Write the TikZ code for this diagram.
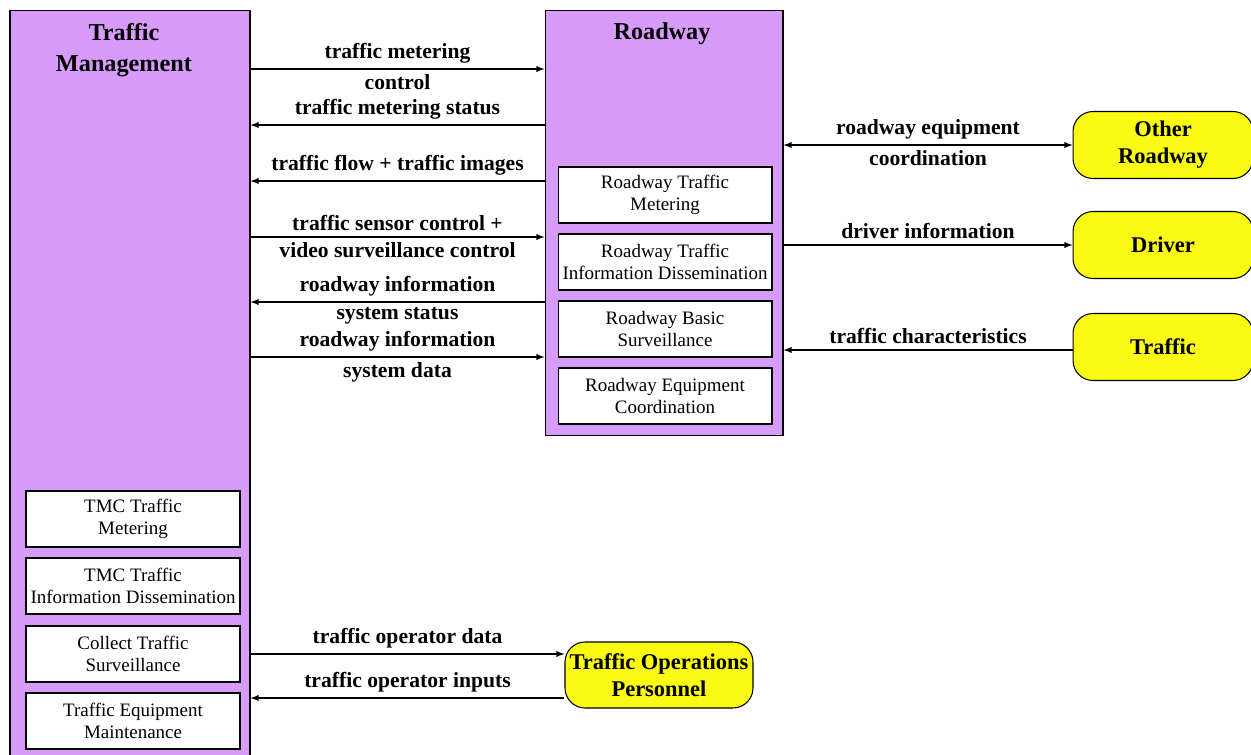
\documentclass[tikz,border=0pt]{standalone}
\usepackage{fontspec}
\setmainfont{Liberation Serif}
\usetikzlibrary{arrows,positioning}

\definecolor{tmpurple}{RGB}{215,155,250}
\definecolor{termyellow}{RGB}{250,250,20}

\begin{document}
\begin{tikzpicture}
[x=0.02cm,y=-0.02cm,>=latex,line width=0.6pt,
  subsys/.style={draw,fill=tmpurple,minimum width=4.8cm,inner sep=0pt},
  pspec/.style={draw,fill=white,minimum width=4.28cm,minimum height=1.12cm,align=center,
    inner sep=0pt,font=\fontsize{10.8}{12.8}\selectfont},
  term/.style={draw,fill=termyellow,rounded corners=0.4cm,minimum width=3.6cm,minimum height=1.34cm,
    align=center,inner sep=0pt,font=\fontsize{12.8}{15.5}\selectfont\bfseries},
  title/.style={align=center,font=\fontsize{13.8}{17.5}\selectfont\bfseries},
  flow/.style={font=\fontsize{12.3}{14}\selectfont\bfseries,inner sep=1pt}]

  \useasboundingbox (0,0) rectangle (1251,754);

  % subsystems
  \node[subsys,minimum height=15.2cm] (tm) at (130,390) {};
  \node[subsys,minimum width=4.76cm,minimum height=8.52cm] (road) at (664,223) {};
  \node[title] (tmtitle) at (124,50) {Traffic\\Management};
  \node[title] (roadtitle) at (662,34) {Roadway};

  % process specs
  \node[pspec] (rtm) at (665,195) {Roadway Traffic\\Metering};
  \node[pspec] (rtid) at (665,262) {Roadway Traffic\\Information Dissemination};
  \node[pspec] (rbs) at (665,329) {Roadway Basic\\Surveillance};
  \node[pspec] (rec) at (665,396) {Roadway Equipment\\Coordination};

  \node[pspec] (tmctm) at (133,519) {TMC Traffic\\Metering};
  \node[pspec] (tmctid) at (133,586) {TMC Traffic\\Information Dissemination};
  \node[pspec] (cts) at (133,654) {Collect Traffic\\Surveillance};
  \node[pspec] (tem) at (133,721) {Traffic Equipment\\Maintenance};

  % terminators
  \node[term] (other) at (1163,145) {Other\\Roadway};
  \node[term] (driver) at (1163,245) {Driver};
  \node[term] (traffic) at (1163,347) {Traffic};
  \node[term,minimum width=3.76cm,minimum height=1.32cm] (top) at (659,675) {Traffic Operations\\Personnel};

  % flows between traffic management and roadway
  \foreach \from/\to/\y/\up/\down in {tm.east/road.west/69/traffic metering/control,
      road.west/tm.east/125/traffic metering status/,
      road.west/tm.east/181/traffic flow + traffic images/,
      tm.east/road.west/237/traffic sensor control +/video surveillance control,
      road.west/tm.east/302/roadway information/system status,
      tm.east/road.west/357/roadway information/system data}
    \draw[->] (\from |- 0,\y) -- node[flow,above=2pt] {\up} node[flow,below=2pt] {\down} (\to |- 0,\y);

  % flows to terminators
  \draw[<->] (road.east |- other) -- node[flow,above=2pt] {roadway equipment} node[flow,below=2pt] {coordination} (other);
  \draw[->] (road.east |- driver) -- node[flow,above=2pt] {driver information} (driver);
  \draw[->] (traffic.west |- 0,350) -- node[flow,above=2pt] {traffic characteristics} (road.east |- 0,350);

  \draw[->] (tm.east |- 0,654) -- node[flow,above=2pt] {traffic operator data} (top.west |- 0,654);
  \draw[->] (top.west |- 0,698) -- node[flow,above=2pt] {traffic operator inputs} (tm.east |- 0,698);

\end{tikzpicture}
\end{document}
